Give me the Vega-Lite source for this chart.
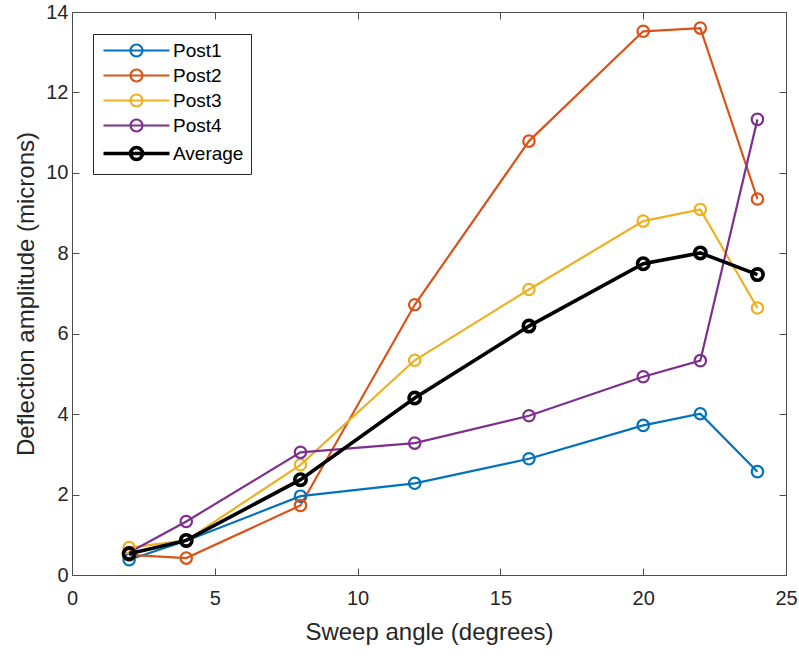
{
  "$schema": "https://vega.github.io/schema/vega-lite/v6.json",
  "width": 714,
  "height": 563,
  "padding": {"left": 14, "top": 2, "right": 2, "bottom": 2},
  "background": "white",
  "config": {
    "font": "Liberation Sans",
    "view": {"stroke": null},
    "axis": {
      "grid": false,
      "domainColor": "#4d4d4d",
      "domainWidth": 1,
      "tickColor": "#4d4d4d",
      "tickSize": -7,
      "labelFlush": false,
      "labelColor": "#262626",
      "labelFontSize": 20,
      "labelFont": "Liberation Sans",
      "titleColor": "#262626",
      "titleFontSize": 24,
      "titleFontWeight": "normal",
      "titleFont": "Liberation Sans"
    },
    "legend": {
      "labelFontSize": 19,
      "labelFont": "Liberation Sans",
      "labelColor": "#000000"
    }
  },
  "data": {
    "values": [
      {"angle": 2, "value": 0.38, "series": "Post1"},
      {"angle": 4, "value": 0.85, "series": "Post1"},
      {"angle": 8, "value": 1.96, "series": "Post1"},
      {"angle": 12, "value": 2.28, "series": "Post1"},
      {"angle": 16, "value": 2.89, "series": "Post1"},
      {"angle": 20, "value": 3.72, "series": "Post1"},
      {"angle": 22, "value": 4.01, "series": "Post1"},
      {"angle": 24, "value": 2.57, "series": "Post1"},
      {"angle": 2, "value": 0.5, "series": "Post2"},
      {"angle": 4, "value": 0.42, "series": "Post2"},
      {"angle": 8, "value": 1.73, "series": "Post2"},
      {"angle": 12, "value": 6.72, "series": "Post2"},
      {"angle": 16, "value": 10.79, "series": "Post2"},
      {"angle": 20, "value": 13.52, "series": "Post2"},
      {"angle": 22, "value": 13.6, "series": "Post2"},
      {"angle": 24, "value": 9.35, "series": "Post2"},
      {"angle": 2, "value": 0.68, "series": "Post3"},
      {"angle": 4, "value": 0.86, "series": "Post3"},
      {"angle": 8, "value": 2.74, "series": "Post3"},
      {"angle": 12, "value": 5.34, "series": "Post3"},
      {"angle": 16, "value": 7.1, "series": "Post3"},
      {"angle": 20, "value": 8.8, "series": "Post3"},
      {"angle": 22, "value": 9.09, "series": "Post3"},
      {"angle": 24, "value": 6.64, "series": "Post3"},
      {"angle": 2, "value": 0.56, "series": "Post4"},
      {"angle": 4, "value": 1.33, "series": "Post4"},
      {"angle": 8, "value": 3.05, "series": "Post4"},
      {"angle": 12, "value": 3.28, "series": "Post4"},
      {"angle": 16, "value": 3.96, "series": "Post4"},
      {"angle": 20, "value": 4.93, "series": "Post4"},
      {"angle": 22, "value": 5.33, "series": "Post4"},
      {"angle": 24, "value": 11.33, "series": "Post4"},
      {"angle": 2, "value": 0.53, "series": "Average"},
      {"angle": 4, "value": 0.86, "series": "Average"},
      {"angle": 8, "value": 2.37, "series": "Average"},
      {"angle": 12, "value": 4.4, "series": "Average"},
      {"angle": 16, "value": 6.19, "series": "Average"},
      {"angle": 20, "value": 7.74, "series": "Average"},
      {"angle": 22, "value": 8.01, "series": "Average"},
      {"angle": 24, "value": 7.47, "series": "Average"}
    ]
  },
  "resolve": {"axis": {"x": "independent", "y": "independent"}},
  "layer": [
    {
      "transform": [{"filter": "datum.series !== 'Average'"}],
      "mark": {"type": "line", "strokeWidth": 2.2, "point": {"filled": false, "shape": "circle", "size": 130, "strokeWidth": 2.2}},
      "encoding": {
        "x": {
          "field": "angle", "type": "quantitative",
          "scale": {"domain": [0, 25], "nice": false, "zero": false},
          "axis": {"orient": "bottom", "title": "Sweep angle (degrees)", "values": [0, 5, 10, 15, 20, 25], "labelPadding": 20, "titlePadding": 12}
        },
        "y": {
          "field": "value", "type": "quantitative",
          "scale": {"domain": [0, 14], "nice": false, "zero": false},
          "axis": {"orient": "left", "title": "Deflection amplitude (microns)", "values": [0, 2, 4, 6, 8, 10, 12, 14], "labelPadding": 11, "titlePadding": 7}
        },
        "color": {
          "field": "series", "type": "nominal",
          "scale": {
            "domain": ["Post1", "Post2", "Post3", "Post4", "Average"],
            "range": ["#0072BD", "#D95319", "#EDB120", "#7E2F8E", "#000000"]
          },
          "legend": {
            "title": null,
            "orient": "none",
            "legendX": 21,
            "legendY": 22,
            "padding": 7,
            "strokeColor": "#262626",
            "fillColor": "white",
            "symbolType": "M-1,0L10,0M3.5,0A1,1,0,1,0,5.5,0A1,1,0,1,0,3.5,0",
            "symbolSize": 144,
            "symbolFillColor": "transparent",
            "symbolStrokeWidth": 2.2,
            "labelOffset": 54,
            "rowPadding": 4,
            "encode": {
              "symbols": {"update": {"strokeWidth": {"signal": "datum.value === 'Average' ? 3.6 : 2.2"}, "fill": {"value": "transparent"}}}
            }
          }
        },
        "order": {"field": "angle"}
      }
    },
    {
      "transform": [{"filter": "datum.series === 'Average'"}],
      "mark": {"type": "line", "strokeWidth": 3.6, "point": {"filled": false, "shape": "circle", "size": 130, "strokeWidth": 3.6}},
      "encoding": {
        "x": {
          "field": "angle", "type": "quantitative",
          "axis": {"orient": "top", "title": null, "labels": false, "values": [0, 5, 10, 15, 20, 25]}
        },
        "y": {
          "field": "value", "type": "quantitative",
          "axis": {"orient": "right", "title": null, "labels": false, "values": [0, 2, 4, 6, 8, 10, 12, 14]}
        },
        "color": {"field": "series", "type": "nominal"},
        "order": {"field": "angle"}
      }
    }
  ]
}
